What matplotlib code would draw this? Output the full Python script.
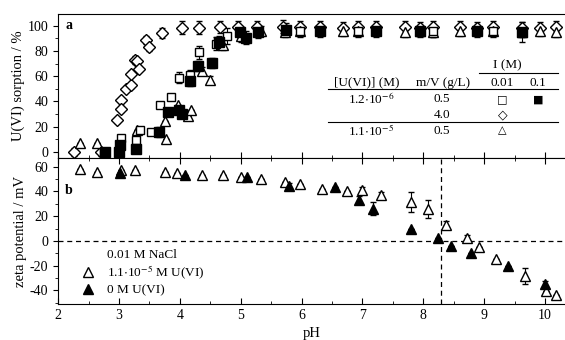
import matplotlib
matplotlib.use("Agg")
import matplotlib.pyplot as plt
from matplotlib.ticker import MultipleLocator, FuncFormatter

plt.rcParams['font.family'] = ['Liberation Serif', 'DejaVu Sans']
plt.rcParams['mathtext.fontset'] = 'stix'
plt.rcParams['axes.unicode_minus'] = False

# --- panel a: U(VI) sorption (%) ---
sq_open_ph = [2.75, 3.03, 3.28, 3.34, 3.53, 3.67, 3.85, 3.99, 4.16, 4.32, 4.59, 4.77,
              5.97, 6.93, 8.16, 9.15]
sq_open_v = [-1, 10.6, 9.3, 17.7, 15.8, 37.5, 43.5, 59, 61, 79, 86, 92, 96, 96, 96, 96]
sq_open_err = [2, 2, 2, 2, 2, 2, 2, 4, 4, 5, 5, 6, 5, 5, 5, 5]

sq_fill_ph = [2.77, 3.00, 3.01, 3.28, 3.66, 3.81, 3.99, 4.03, 4.16, 4.30, 4.52,
              4.65, 4.99, 5.09, 5.29, 5.75, 6.30, 7.23, 7.94, 8.88, 9.62]
sq_fill_v = [0, 0, 5.5, 2, 16, 32, 33, 30, 56, 68, 70.5, 87, 95, 90.6, 95, 97,
             96, 96, 96, 96, 95]
sq_fill_err = [2, 2, 2, 2, 4, 2, 2, 2, 4, 4, 4, 5, 5, 5, 5, 5, 5, 5, 5, 5, 8]

dia_ph = [2.26, 2.70, 2.97, 3.03, 3.04, 3.11, 3.19, 3.19, 3.26, 3.30, 3.33, 3.45, 3.49,
          3.71, 4.03, 4.31, 4.66, 4.96, 5.27, 5.70, 5.97, 6.30, 6.68, 6.93, 7.23, 7.70,
          7.94, 8.16, 8.60, 8.88, 9.15, 9.62, 9.92, 10.19]
dia_v = [0, 0, 25, 41, 34, 50, 53, 62, 73, 72, 66, 89, 83, 94, 98.5, 98.5, 99, 99, 99,
         99.5, 99, 99, 98, 99, 99, 99, 98, 99, 99, 98, 99, 98, 98, 99]
dia_err = [3, 3, 2, 2, 2, 2, 2, 2, 3, 2, 2, 3, 3, 4, 5, 5, 5, 5, 5, 5, 5, 5, 5, 5, 5, 5,
           5, 5, 5, 5, 5, 5, 5, 5]

tri_ph = [2.36, 2.64, 3.29, 3.75, 3.78, 3.97, 4.14, 4.19, 4.36, 4.49, 4.71, 5.01, 5.33,
          5.73, 5.97, 6.68, 6.93, 7.70, 7.94, 8.16, 8.60, 9.15, 9.62, 9.92, 10.19]
tri_v = [6.6, 7, 17, 24.5, 10, 37, 28.3, 33, 64, 57, 84.5, 91.6, 96, 95, 96, 96, 96,
         95, 96, 95, 96, 96, 95, 96, 95]
tri_err = [0, 0, 0, 0, 0, 0, 0, 0, 3, 3, 4, 4, 4, 4, 4, 4, 4, 4, 4, 4, 4, 4, 4, 4, 4]

# --- panel b: zeta potential (mV) ---
zeta_u_ph = [2.36, 2.64, 3.04, 3.26, 3.75, 3.96, 4.36, 4.71, 5.00, 5.34, 5.73, 5.98,
             6.33, 6.74, 6.99, 7.30, 7.80, 8.08, 8.37, 8.72, 8.91, 9.20, 9.67, 10.01, 10.19]
zeta_u_v = [58, 55.5, 57, 57, 55.5, 54.7, 53.7, 53.7, 51.5, 50.2, 47.5, 46, 42, 40.2,
            40.8, 36.8, 31.4, 26, 13.2, 2.7, -5.3, -14.7, -28.4, -40.5, -43.7]
zeta_u_err = [0, 0, 0, 0, 0, 0, 0, 0, 0, 0, 0, 0, 0, 0, 3, 3, 8, 7.5, 3, 2, 0, 0, 6.7, 0, 0]

zeta_0_ph = [3.01, 4.08, 5.10, 5.80, 6.55, 6.95, 7.17, 7.80, 8.25, 8.45, 8.78, 9.40, 10.00]
zeta_0_v = [54.7, 53.7, 51.5, 44.8, 44, 33.3, 26, 10, 2, -4.3, -10, -20.3, -34.8]
zeta_0_err = [0, 0, 0, 2, 0, 3, 5.4, 0, 0, 0, 0, 0, 2]

iep = 8.3

fig = plt.figure(figsize=(5.65, 3.4), dpi=100)
ax1 = fig.add_axes([0.103, 0.535, 0.897, 0.424])
ax2 = fig.add_axes([0.103, 0.106, 0.897, 0.429], sharex=ax1)

eb = dict(ecolor='black', elinewidth=0.8, capsize=2.2, capthick=0.8, mec='black',
          linestyle='none', mew=1.0)
ax1.errorbar(dia_ph, dia_v, yerr=dia_err, fmt='D', ms=6.3, mfc='white', **eb)
ax1.errorbar(tri_ph, tri_v, yerr=tri_err, fmt='^', ms=7, mfc='white', **eb)
ax1.errorbar(sq_open_ph, sq_open_v, yerr=sq_open_err, fmt='s', ms=6.2, mfc='white', **eb)
ax1.errorbar(sq_fill_ph, sq_fill_v, yerr=sq_fill_err, fmt='s', ms=6.5, mfc='black', **eb)

ax2.axhline(0, color='black', lw=0.9, ls=(0, (4, 3)))
ax2.axvline(iep, color='black', lw=0.9, ls=(0, (4, 3)))
h_u = ax2.errorbar(zeta_u_ph, zeta_u_v, yerr=zeta_u_err, fmt='^', ms=7, mfc='white', **eb)
h_0 = ax2.errorbar(zeta_0_ph, zeta_0_v, yerr=zeta_0_err, fmt='^', ms=7, mfc='black', **eb)

ax1.set_xlim(2, 10.33)
ax1.set_ylim(-5, 109.5)
ax2.set_ylim(-51, 67)

for ax in (ax1, ax2):
    ax.spines['right'].set_visible(False)
    ax.xaxis.set_major_locator(MultipleLocator(1))
    ax.xaxis.set_minor_locator(MultipleLocator(0.5))
    ax.yaxis.set_minor_locator(MultipleLocator(10))
    ax.tick_params(axis='x', which='major', direction='in', length=4, labelsize=10)
    ax.tick_params(axis='x', which='minor', direction='in', length=2.5)
    ax.tick_params(axis='y', which='major', direction='out', length=3.5, labelsize=10)
    ax.tick_params(axis='y', which='minor', direction='out', length=2.5)

ax1.yaxis.set_major_locator(MultipleLocator(20))
ax2.yaxis.set_major_locator(MultipleLocator(20))
ax2.yaxis.set_major_formatter(FuncFormatter(lambda v, p: f"{v:.0f}"))
ax1.tick_params(axis='x', labelbottom=False)
ax2.tick_params(axis='x', which='both', top=True)

ax1.set_ylabel('U(VI) sorption / %', fontsize=10.5, labelpad=2)
ax2.set_ylabel('zeta potential / mV', fontsize=10.5, labelpad=2)
ax2.set_xlabel('pH', fontsize=10.5, labelpad=4)

ax1.text(0.015, 0.92, 'a', transform=ax1.transAxes, fontsize=10, fontweight='bold',
         va='center')
ax2.text(0.013, 0.78, 'b', transform=ax2.transAxes, fontsize=10, fontweight='bold',
         va='center')

# table key in panel a
fs = 9.5
tk = dict(transform=ax1.transAxes, ha='center', va='center', fontsize=fs)
ax1.text(0.887, 0.646, 'I (M)', **tk)
ax1.text(0.609, 0.523, '[U(VI)] (M)', **tk)
ax1.text(0.759, 0.523, 'm/V (g/L)', **tk)
ax1.text(0.877, 0.523, '0.01', **tk)
ax1.text(0.947, 0.523, '0.1', **tk)
ax1.text(0.617, 0.408, r'1.2$\cdot$10$^{-6}$', **tk)
ax1.text(0.757, 0.408, '0.5', **tk)
ax1.text(0.757, 0.299, '4.0', **tk)
ax1.text(0.617, 0.190, r'1.1$\cdot$10$^{-5}$', **tk)
ax1.text(0.757, 0.190, '0.5', **tk)
gk = dict(transform=ax1.transAxes, ha='center', va='center', family=['DejaVu Sans'],
          fontweight='bold')
ax1.text(0.877, 0.408, '\u25a1', fontsize=8, **gk)
ax1.text(0.947, 0.408, '\u25a0', fontsize=8, **gk)
ax1.text(0.877, 0.299, '\u25c7', fontsize=9, **gk)
ax1.text(0.877, 0.190, '\u25b3', fontsize=8, **gk)
for x0, y0 in [(0.830, 0.592), (0.532, 0.477), (0.532, 0.248)]:
    ax1.plot([x0, 0.986], [y0, y0], color='black', lw=0.8, transform=ax1.transAxes,
             clip_on=False)

leg = ax2.legend([h_u[0], h_0[0]], [r'1.1$\cdot$10$^{-5}$ M U(VI)', '0 M U(VI)'],
                 loc='lower left', bbox_to_anchor=(0.02, -0.03), frameon=False,
                 title='0.01 M NaCl', fontsize=fs, title_fontsize=fs,
                 handlelength=1.2, handletextpad=0.8, labelspacing=0.2)

fig.savefig('out.png', dpi=100)
